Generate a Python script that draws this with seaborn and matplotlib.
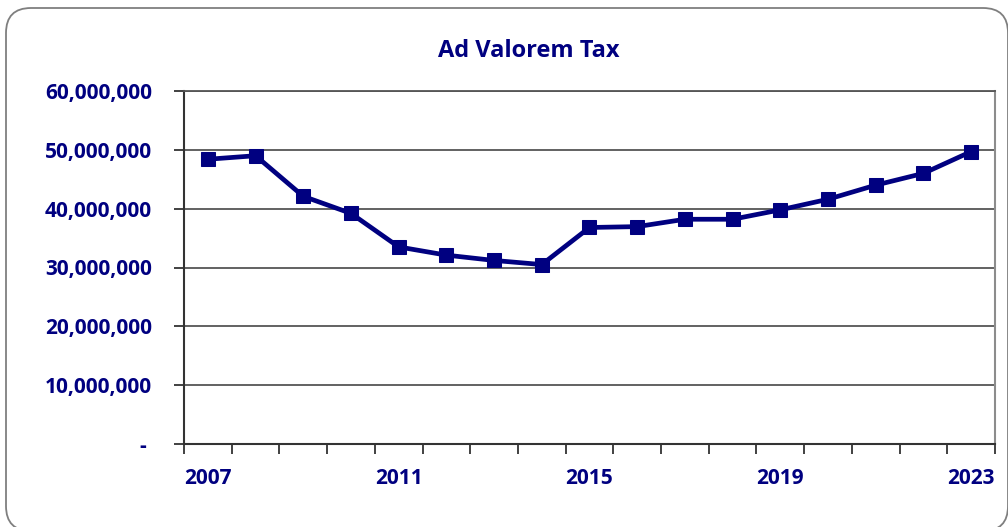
import matplotlib
matplotlib.use("Agg")
import matplotlib.pyplot as plt
import matplotlib.ticker as mticker
from matplotlib.patches import FancyBboxPatch
import pandas as pd
import seaborn as sns

years = list(range(2007, 2024))
tax = [48400000, 49000000, 42100000, 39200000, 33500000, 32100000, 31200000, 30500000,
       36800000, 36950000, 38200000, 38200000, 39800000, 41600000, 44000000, 46000000, 49700000]
year_labels = [2007, 2011, 2015, 2019, 2023]
y_ticks = [0, 10000000, 20000000, 30000000, 40000000, 50000000, 60000000]

navy = "#000080"

sns.set_style("white")
plt.rcParams['font.family'] = ['Open Sans', 'DejaVu Sans']
plt.rcParams['font.weight'] = 'bold'

df = pd.DataFrame({"year": years, "tax": tax})

fig = plt.figure(figsize=(10.08, 5.27), dpi=100)
ax = fig.add_axes([184 / 1008, 1 - 444 / 527, (995 - 184) / 1008, (444 - 91) / 527])

# rounded outer border, like an excel chart frame (inches)
frame = FancyBboxPatch((0.06, -0.04), 10.02, 5.19 + 0.04,
                       boxstyle="round,pad=0,rounding_size=0.25",
                       transform=fig.dpi_scale_trans, fill=False,
                       edgecolor="#7f7f7f", linewidth=1.3)
fig.patches.append(frame)

sns.lineplot(data=df, x="year", y="tax", ax=ax, color=navy, linewidth=3.4,
             marker="s", markersize=10, markeredgecolor=navy)

ax.set_xlim(2006.5, 2023.5)
ax.set_ylim(0, 60000000)

# category boundaries get the tick marks, labels sit on the category centre
ax.xaxis.set_major_locator(mticker.FixedLocator(year_labels))
ax.xaxis.set_minor_locator(mticker.FixedLocator([y - 0.5 for y in years] + [2023.5]))
ax.set_xticklabels([str(y) for y in year_labels])
ax.tick_params(axis="x", which="major", length=0, pad=17, labelsize=15, labelcolor=navy)
ax.tick_params(axis="x", which="minor", length=7, width=1.3, color="#333333", bottom=True)

ax.set_yticks(y_ticks)
ax.set_yticklabels(["- "] + [f"{v:,.0f}" for v in y_ticks[1:]])
ax.tick_params(axis="y", length=7, width=1.3, color="#333333", pad=16, labelsize=15,
               labelcolor=navy, left=True)
for lab in ax.get_xticklabels() + ax.get_yticklabels():
    lab.set_fontweight("bold")

ax.grid(axis="y", color="#555555", linewidth=1.3)
ax.grid(axis="x", visible=False)
for side in ["left", "bottom"]:
    ax.spines[side].set_color("#333333")
    ax.spines[side].set_linewidth(1.5)
ax.spines["right"].set_color("#8c8c8c")
ax.spines["right"].set_linewidth(1.5)
ax.spines["top"].set_color("#555555")
ax.spines["top"].set_linewidth(1.3)

ax.set_xlabel("")
ax.set_ylabel("")

fig.text(529 / 1008, 1 - 51 / 527, "Ad Valorem Tax", ha="center", va="center",
         fontsize=17, fontweight="bold", color=navy)

fig.savefig("out.png", dpi=100)
